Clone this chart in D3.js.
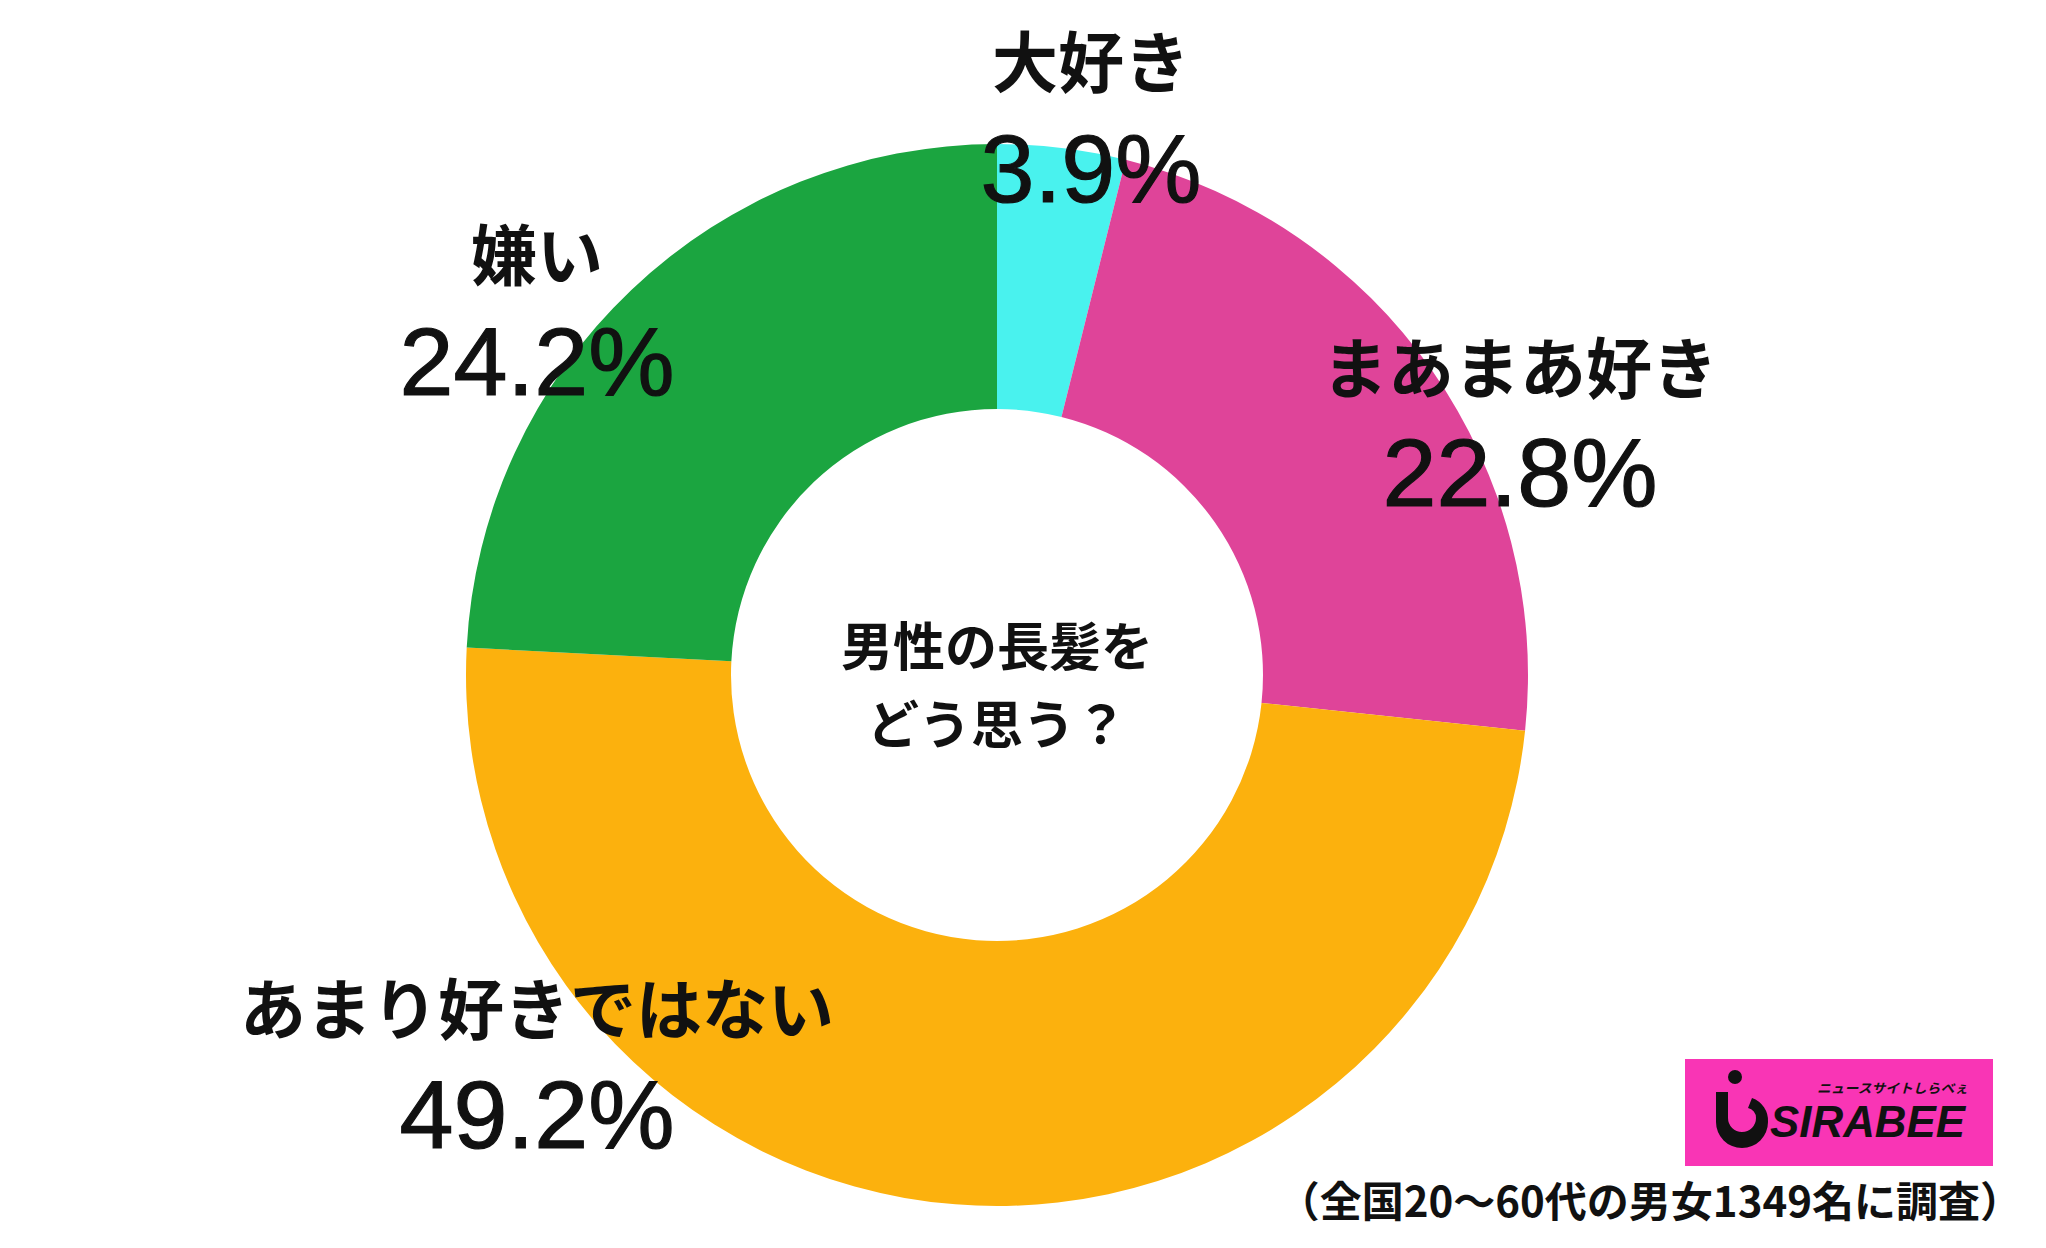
<!DOCTYPE html>
<html>
<head>
<meta charset="utf-8">
<script src="https://cdn.jsdelivr.net/npm/d3@7"></script>
<style>
  html, body { margin: 0; padding: 0; background: #fff; }
  svg { display: block; }
  .jp { font-family: "Noto Sans CJK JP", "Noto Sans", sans-serif; font-weight: 700; fill: #111; }
  .pct { font-family: "Liberation Sans", Arial, sans-serif; fill: #111; stroke: #111; stroke-width: 1.2; }
</style>
</head>
<body>
<svg width="2046" height="1248"></svg>
<script>
// donut chart: 男性の長髪をどう思う？

var categories = ["大好き", "まあまあ好き", "あまり好きではない", "嫌い"];
var values = [3.9, 22.8, 49.2, 24.2];
var colors = ["#49f2ee", "#df4499", "#fcb10d", "#1ba540"];
var title = ["男性の長髪を", "どう思う？"];
var note = "（全国20〜60代の男女1349名に調査）";

var svg = d3.select("svg"),
    cx = 997,
    cy = 675,
    outer = 531,
    inner = 266;

var g = svg.append("g").attr("transform", "translate(" + cx + "," + cy + ")");

var pie = d3.pie().sort(null).value(function (d) { return d; });
var arc = d3.arc().innerRadius(inner).outerRadius(outer);

g.selectAll(".slice")
  .data(pie(values))
  .enter().append("path")
  .attr("class", "slice")
  .attr("d", arc)
  .attr("fill", function (d, i) { return colors[i]; });

// label anchors (name centre y, percent baseline y), relative to the page
var labelPos = [
  { x: 1091, ny: 58, py: 202 },
  { x: 1520, ny: 364, py: 506 },
  { x: 537, ny: 1005, py: 1148 },
  { x: 537, ny: 251, py: 395 }
];

var labels = svg.append("g");
categories.forEach(function (c, i) {
  var p = labelPos[i];
  labels.append("text")
    .attr("class", "jp")
    .attr("x", p.x)
    .attr("y", p.ny)
    .attr("text-anchor", "middle")
    .attr("dominant-baseline", "central")
    .attr("font-size", 66)
    .text(c);
  labels.append("text")
    .attr("class", "pct")
    .attr("x", p.x)
    .attr("y", p.py)
    .attr("text-anchor", "middle")
    .attr("font-size", 97)
    .text(values[i].toFixed(1) + "%");
});

// centre question
title.forEach(function (t, i) {
  svg.append("text")
    .attr("class", "jp")
    .attr("x", cx)
    .attr("y", 643 + i * 78)
    .attr("text-anchor", "middle")
    .attr("dominant-baseline", "central")
    .attr("font-size", 52)
    .text(t);
});

// footnote
svg.append("text")
  .attr("class", "jp")
  .attr("x", 2022)
  .attr("y", 1198)
  .attr("text-anchor", "end")
  .attr("dominant-baseline", "central")
  .attr("font-size", 42)
  .text(note);

// logo
var logo = svg.append("g");
logo.append("rect")
  .attr("x", 1685).attr("y", 1059)
  .attr("width", 308).attr("height", 107)
  .attr("fill", "#f935b5");
logo.append("circle").attr("cx", 1735).attr("cy", 1077).attr("r", 7).attr("fill", "#111");
logo.append("path")
  .attr("d", "M1716,1092 L1728,1092 L1728,1118 A14,14 0 0 0 1756,1118 A10,10 0 0 0 1748,1108 L1752,1098 A24,24 0 0 1 1768,1122 A26,26 0 0 1 1716,1122 Z")
  .attr("fill", "#111");
logo.append("text")
  .attr("x", 1770).attr("y", 1137)
  .attr("font-family", "'Liberation Sans Narrow', 'Liberation Sans', sans-serif")
  .attr("font-weight", 700)
  .attr("font-style", "italic")
  .attr("font-size", 44)
  .attr("textLength", 195)
  .attr("lengthAdjust", "spacingAndGlyphs")
  .attr("fill", "#111")
  .text("SIRABEE");
logo.append("text")
  .attr("x", 1817).attr("y", 1093)
  .attr("font-family", "'Noto Sans CJK JP', sans-serif")
  .attr("font-weight", 700)
  .attr("font-style", "italic")
  .attr("font-size", 13)
  .attr("textLength", 151)
  .attr("lengthAdjust", "spacingAndGlyphs")
  .attr("fill", "#111")
  .text("ニュースサイトしらべぇ");
</script>
</body>
</html>
